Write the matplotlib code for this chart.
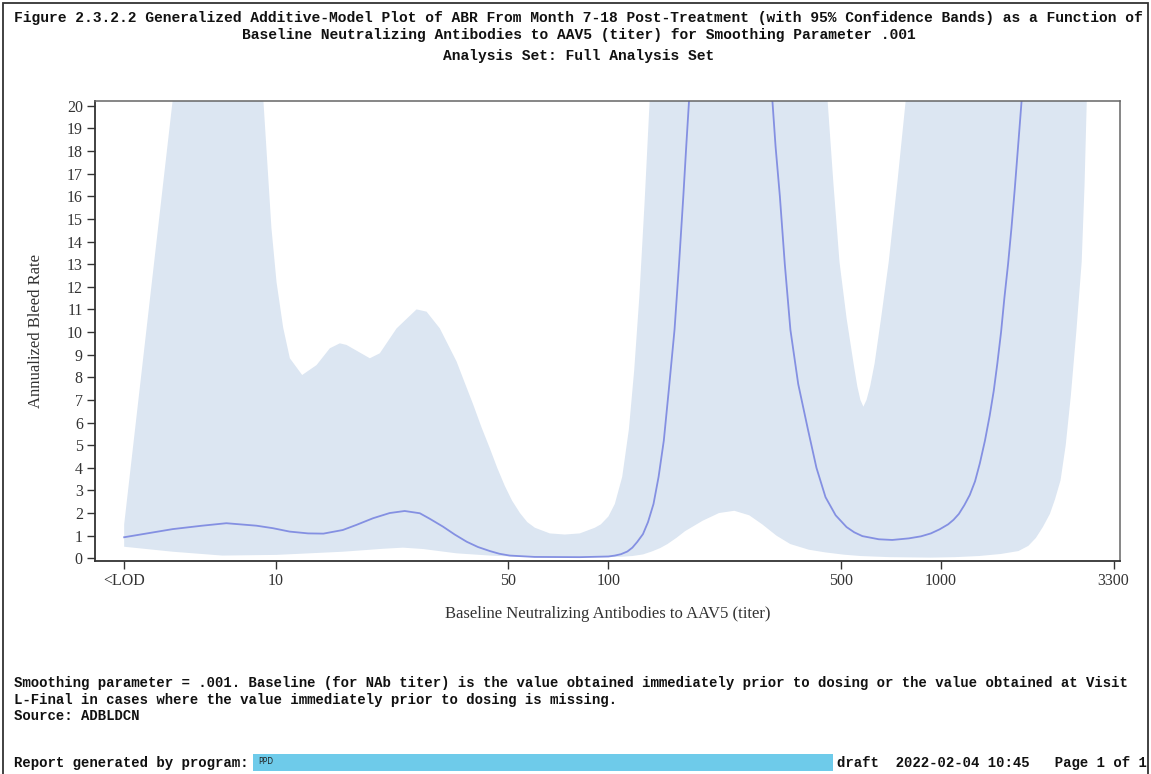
import matplotlib
matplotlib.use("Agg")
import matplotlib.pyplot as plt
from matplotlib.patches import Rectangle
from matplotlib.ticker import NullLocator, FixedLocator, FixedFormatter

# baseline titer (the <LOD group is placed at 3.5 on the log axis)
x_fit = [3.5, 4.9, 6.0, 7.1, 8.75, 9.8, 11.0, 12.5, 13.9, 15.9, 17.5, 19.6, 22.0,
         24.4, 27.1, 29.0, 31.8, 34.5, 37.5, 40.5, 44.0, 47.0, 50.5, 60, 82, 100,
         104.5, 109, 114, 118, 122, 127, 131.5, 136.6, 141.5, 146.7, 152, 158,
         163, 168, 171.5, 175, 200, 280, 310.5, 318, 327.6, 339, 352.4, 372,
         397.8, 422, 449.4, 482, 519.8, 548, 580, 650, 713, 800, 870, 932, 990,
         1050, 1090, 1131, 1175, 1220, 1265, 1308, 1355, 1400, 1440, 1476, 1515,
         1550, 1590, 1628, 1665, 1700, 1725, 1750, 2000]
abr_fit = [0.93, 1.29, 1.44, 1.55, 1.44, 1.33, 1.18, 1.10, 1.09, 1.25, 1.48, 1.77, 2.0,
           2.09, 1.99, 1.75, 1.40, 1.05, 0.73, 0.50, 0.32, 0.20, 0.12, 0.06, 0.05, 0.08,
           0.12, 0.18, 0.30, 0.47, 0.72, 1.07, 1.6, 2.4, 3.6, 5.2, 7.5, 10.1,
           13.0, 16.05, 18.3, 20.4, 32, 32, 20.4, 18.2, 16.0, 13.0, 10.1, 7.7,
           5.7, 4.0, 2.7, 1.9, 1.38, 1.15, 0.98, 0.84, 0.81, 0.88, 0.97, 1.1, 1.28,
           1.5, 1.7, 1.96, 2.35, 2.8, 3.4, 4.2, 5.2, 6.3, 7.4, 8.6, 10.0,
           11.5, 13.0, 14.6, 16.3, 18.0, 19.2, 20.4, 32]

# upper 95% confidence limit
x_upper = [3.5, 4.91, 5.5, 8.5, 9.16, 9.70, 10.05, 10.52, 11.02, 12.0, 13.26,
           14.53, 15.57, 16.31, 19.17, 20.54, 23.07, 26.49, 28.39, 31.12, 34.94,
           37.0, 39.2, 41.5, 44.0, 46.3, 48.8, 51.3, 54.2, 57.0, 60.1, 66.6, 73.9,
           82.0, 91.0, 94.9, 100, 104.5, 110, 115.2, 119.5, 123.9, 128.5, 133.2,
           140, 440, 455, 475, 495, 520, 545.8, 560, 572, 584, 597, 612, 631, 660,
           696, 740, 785, 850, 3300]
abr_upper = [1.5, 20.4, 32, 32, 20.4, 14.6, 12.2, 10.2, 8.84, 8.1, 8.54,
             9.28, 9.5, 9.43, 8.84, 9.06, 10.16, 11.0, 10.9, 10.16, 8.7,
             7.75, 6.8, 5.8, 4.86, 4.0, 3.2, 2.55, 2.0, 1.6, 1.35, 1.1, 1.05,
             1.1, 1.35, 1.5, 1.85, 2.4, 3.6, 5.7, 8.3, 11.6, 15.8, 20.4,
             32, 32, 20.4, 16.5, 13.1, 10.6, 8.6, 7.6, 7.0, 6.7, 7.0, 7.6, 8.6, 10.6,
             13.1, 16.7, 20.4, 32, 32]

# lower 95% confidence limit
x_lower = [3.5, 4.9, 6.9, 10.05, 15.9, 21.0, 24.1, 27.7, 34.9, 44.0, 55, 80,
           100, 110, 118, 127, 135, 143, 150.5, 160, 170, 192, 215, 239, 265, 290,
           320, 352, 400, 449, 510, 573, 700, 932, 1100, 1300, 1512, 1709, 1830,
           1928, 2023, 2124, 2200, 2287, 2370, 2456, 2550, 2647, 2700, 2744, 2850,
           3300]
abr_lower = [0.51, 0.29, 0.12, 0.15, 0.29, 0.42, 0.47, 0.41, 0.22, 0.12, 0.06, 0.04,
             0.05, 0.07, 0.10, 0.17, 0.30, 0.45, 0.63, 0.9, 1.2, 1.66, 2.0, 2.1, 1.9, 1.5,
             1.0, 0.63, 0.38, 0.26, 0.16, 0.1, 0.05, 0.03, 0.05, 0.1, 0.19, 0.32, 0.55,
             0.9, 1.38, 1.96, 2.6, 3.45, 5.0, 7.2, 10.0, 13.1, 16.5, 20.4, 32,
             32]

tick_pos = [3.5, 10, 50, 100, 500, 1000, 3300]
tick_labels = ['<LOD', '10', '50', '100', '500', '1000', '3300']
y_ticks = list(range(0, 21))

W, H = 1151, 774
fig = plt.figure(figsize=(W / 100, H / 100), dpi=100)

def fx(px):
    return px / W

def fy(py):
    return 1 - py / H

mono = 'Liberation Mono'
serif = 'Liberation Serif'

# page border
fig.patches.append(Rectangle((fx(3), fy(790)), fx(1145), 790 / H - 3 / H,
                             transform=fig.transFigure, fill=False,
                             edgecolor='#333333', lw=1.3))

# titles
title_lines = [
    'Figure 2.3.2.2 Generalized Additive-Model Plot of ABR From Month 7-18 Post-Treatment (with 95% Confidence Bands) as a Function of',
    'Baseline Neutralizing Antibodies to AAV5 (titer) for Smoothing Parameter .001',
    'Analysis Set: Full Analysis Set',
]
for txt, py in zip(title_lines, [18, 35, 56]):
    fig.text(fx(578.5), fy(py), txt, ha='center', va='center',
             family=mono, fontsize=10.5, fontweight='bold', color='#111111')

ax = fig.add_axes([fx(95), fy(561), fx(1025), 460 / H])
ax.fill(x_upper + x_lower[::-1], abr_upper + abr_lower[::-1],
        color='#dce6f2', lw=0, zorder=1)
ax.plot(x_fit, abr_fit, color='#8490e2', lw=1.3, zorder=2)

ax.set_xscale('log')
ax.set_xlim(2.86, 3451)
ax.set_ylim(-0.12, 20.21)
ax.xaxis.set_major_locator(FixedLocator(tick_pos))
ax.xaxis.set_major_formatter(FixedFormatter(tick_labels))
ax.xaxis.set_minor_locator(NullLocator())
ax.set_yticks(y_ticks)

for side in ['left', 'bottom']:
    ax.spines[side].set_color('#333333')
    ax.spines[side].set_linewidth(1.3)
for side in ['top', 'right']:
    ax.spines[side].set_color('#666666')
    ax.spines[side].set_linewidth(1.1)

ax.tick_params(direction='out', length=5.8, width=1.0, color='#333333',
               labelsize=11.5, pad=3, labelcolor='#333333')
for lab in ax.get_xticklabels() + ax.get_yticklabels():
    lab.set_family(serif)

ax.set_xlabel('Baseline Neutralizing Antibodies to AAV5 (titer)', family=serif,
              fontsize=12, color='#333333', va='center')
ax.xaxis.set_label_coords(0.5, (561 - 614) / 460)
ax.set_ylabel('Annualized Bleed Rate', family=serif, fontsize=12,
              color='#333333', va='center')
ax.yaxis.set_label_coords((36 - 95) / 1025, 0.5)

# footnotes
foot_lines = [
    'Smoothing parameter = .001. Baseline (for NAb titer) is the value obtained immediately prior to dosing or the value obtained at Visit',
    'L-Final in cases where the value immediately prior to dosing is missing.',
    'Source: ADBLDCN',
]
for txt, py in zip(foot_lines, [683, 700, 716]):
    fig.text(fx(14), fy(py), txt, ha='left', va='center',
             family=mono, fontsize=10.05, fontweight='bold', color='#111111')

fig.text(fx(14), fy(763), 'Report generated by program: ', ha='left', va='center',
         family=mono, fontsize=10.05, fontweight='bold', color='#111111')
fig.patches.append(Rectangle((fx(253), fy(771)), fx(580), 17 / H,
                             transform=fig.transFigure, facecolor='#6ecbea',
                             edgecolor='none'))
fig.text(fx(258), fy(761), 'PPD', ha='left', va='center',
         family='DejaVu Sans', fontsize=5.5, color='#222222')
fig.text(fx(837), fy(763), 'draft  2022-02-04 10:45   Page 1 of 1', ha='left',
         va='center', family=mono, fontsize=10.05, fontweight='bold',
         color='#111111')

fig.savefig('out.png', dpi=100)
